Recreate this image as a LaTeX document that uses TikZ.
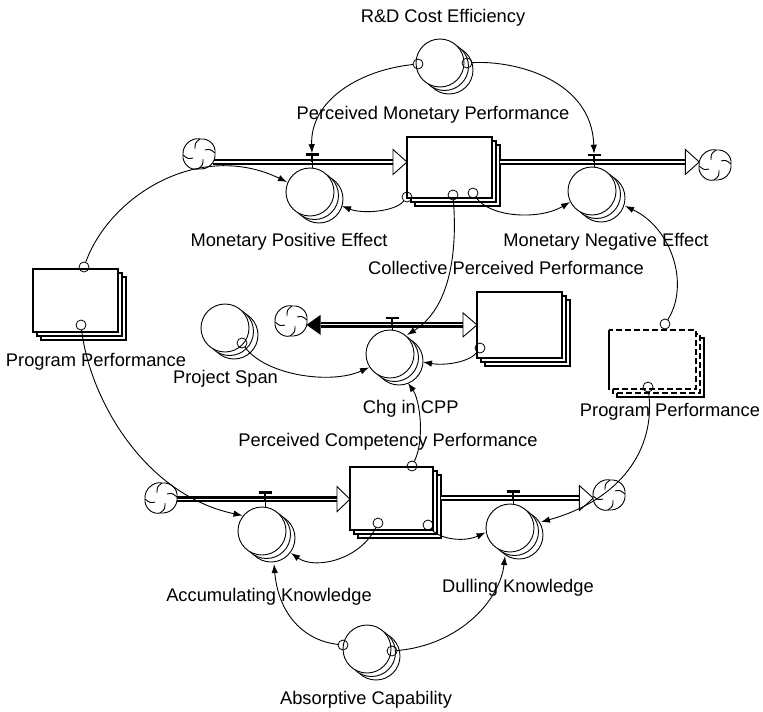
\documentclass[tikz,border=0pt]{standalone}
\usepackage{fontspec}
\setmainfont{Liberation Sans}
\usetikzlibrary{arrows.meta,calc}
\begin{document}
\begin{tikzpicture}[x=1pt,y=-1pt,
  lbl/.style={anchor=base,inner sep=0pt,font=\fontsize{18.3}{22}\selectfont},
  var/.style={circle,draw,fill=white,line width=0.9pt,minimum size=48pt,inner sep=0pt,outer sep=0pt,
    preaction={draw,fill=white,transform canvas={shift={(9pt,-7pt)}}},
    preaction={draw,fill=white,transform canvas={shift={(4.5pt,-3.5pt)}}}},
  level/.style={rectangle,draw,fill=white,line width=2.6pt,inner sep=0pt,outer sep=0pt,
    preaction={draw,fill=white,transform canvas={shift={(8pt,-8pt)}}},
    preaction={draw,fill=white,transform canvas={shift={(4pt,-4pt)}}}},
  tail/.style={circle,draw,line width=0.8pt,minimum size=10pt,inner sep=0pt,outer sep=0pt},
  link/.style={line width=0.9pt,-{Latex[length=9pt,width=6.5pt]}},
  pipe/.style={line width=2.6pt,double=white,double distance=1.2pt},
  pipehead/.style={draw,fill=white,line width=0.9pt,line join=miter},
  sinkpt/.style={circle,minimum size=32pt,inner sep=0pt,outer sep=0pt},
  sinkcloud/.pic={
    \draw[line width=0.9pt,fill=white] (-16,1) .. controls (-17,-9) and (-7,-17) .. (1,-15)
      .. controls (10,-16) and (17,-9) .. (16,-1) .. controls (17,9) and (9,16) .. (-1,15)
      .. controls (-9,17) and (-17,9) .. (-16,1) -- cycle;
    \draw[line width=0.9pt] (1,-15) .. controls (-4,-11) .. (-4,-5)
      (16,-1) .. controls (11,-5) .. (6,-4)
      (-1,15) .. controls (4,11) .. (4,5)
      (-16,1) .. controls (-11,5) .. (-6,4);
  },
  valvebar/.pic={
    \draw[line width=2.6pt] (-6.5,0) -- (6.5,0);
    \draw[line width=1.8pt] (0,0) -- (0,7);
  }
]
\useasboundingbox (0,0) rectangle (763,712);

% sources and sinks
\node[sinkpt] (cl1) at (199,154) {};
\node[sinkpt] (cl2) at (715,165) {};
\node[sinkpt] (cl3) at (291,321) {};
\node[sinkpt] (cl4) at (161,498) {};
\node[sinkpt] (cl5) at (609,495) {};

% stocks
\node[level,minimum width=85pt,minimum height=61pt] (s1) at (449.5,167.5) {};
\node[level,minimum width=85pt,minimum height=66pt] (s2) at (519.5,325) {};
\node[level,minimum width=83pt,minimum height=63pt] (s3) at (391.5,498.5) {};
\node[level,minimum width=85pt,minimum height=63pt] (s4) at (75.5,300.5) {};

% Program Performance (dashed copy)
\node[minimum width=87pt,minimum height=59pt,inner sep=0pt,outer sep=0pt] (s5) at (652.5,359.5) {};
\draw[line width=2.6pt,fill=white] ([xshift=8pt,yshift=-8pt]s5.north west) rectangle ([xshift=8pt,yshift=-8pt]s5.south east);
\draw[line width=2.2pt,fill=white,dash pattern=on 6pt off 3pt] ([xshift=4pt,yshift=-4pt]s5.north west) rectangle ([xshift=4pt,yshift=-4pt]s5.south east);
\draw[line width=2.2pt,fill=white,dash pattern=on 6pt off 3pt] (s5.north west) rectangle (s5.south east);
\draw[line width=2.6pt] (s5.north west) -- (s5.south west);

% pipes
\draw[pipe] (cl1.-30) -- ([xshift=-14pt]cl1.-30 -| s1.west);
\draw[pipe] ([xshift=8pt]s1.east |- cl2.169) -- ([xshift=-14pt]cl2.169);
\draw[pipe] ([xshift=14pt]cl3.-14) -- ([xshift=-14pt]cl3.-14 -| s2.west);
\draw[pipe] (cl4.-4) -- ([xshift=-13pt]cl4.-4 -| s3.west);
\draw[pipe] ([xshift=8pt]s3.east |- cl5.191) -- ([xshift=-14pt]cl5.191);

% pipe heads
\draw[pipehead] (cl1.-30 -| s1.west) -- ++(-14,-12.5) -- ++(0,25) -- cycle;
\draw[pipehead] (cl2.169) -- ++(-14,-12.5) -- ++(0,25) -- cycle;
\fill (cl3.-14) -- ++(14,-10) -- ++(0,20) -- cycle;
\draw[pipehead] (cl3.-14 -| s2.west) -- ++(-14,-12) -- ++(0,24) -- cycle;
\draw[pipehead] (cl4.-4 -| s3.west) -- ++(-13,-12.5) -- ++(0,25) -- cycle;
\draw[pipehead] (cl5.191) -- ++(-14,-12.5) -- ++(0,25) -- cycle;

% clouds
\foreach \c in {cl1,cl2,cl3,cl4,cl5} \pic at (\c) {sinkcloud};

% valves
\coordinate (v1) at (312,154.5);
\coordinate (v2) at (594,155);
\coordinate (v3) at (392,318);
\coordinate (v4) at (265,492.5);
\coordinate (v5) at (513,491.5);
\foreach \v in {v1,v2,v3,v4,v5} \pic at (\v) {valvebar};

% rates and auxiliaries
\node[var] (rdc) at (440,63) {};
\node[var] (mpe) at (310,192) {};
\node[var] (mne) at (592,191) {};
\node[var] (psp) at (225,328) {};
\node[var] (chg) at (390,354) {};
\node[var] (acc) at (262,531) {};
\node[var] (dul) at (510,528) {};
\node[var] (abs) at (367,649) {};

\draw[line width=0.9pt] (v1) -- (v1 |- mpe.north);
\draw[line width=0.9pt] (v2) -- (v2 |- mne.north);
\draw[line width=0.9pt] (v3) -- (v3 |- chg.north);
\draw[line width=0.9pt] (v4) -- ($(acc.north)+(3,0.3)$);
\draw[line width=0.9pt] (v5) -- ($(dul.north)+(3,0.3)$);

% connector tails
\node[tail] (t1) at (418,64) {};
\node[tail] (t2) at (467,63) {};
\node[tail] (t3) at (407,197) {};
\node[tail] (t4) at (453,195) {};
\node[tail] (t5) at (473,193) {};
\node[tail] (t6) at (84,267) {};
\node[tail] (t7) at (81,325) {};
\node[tail] (t8) at (242,343) {};
\node[tail] (t9) at (480,348) {};
\node[tail] (t10) at (412,466) {};
\node[tail] (t11) at (378,523) {};
\node[tail] (t12) at (428,525) {};
\node[tail] (t13) at (665,324) {};
\node[tail] (t14) at (648,387) {};
\node[tail] (t15) at (343,645) {};
\node[tail] (t16) at (392,651) {};

% connectors
\draw[link] (t1) .. controls (360,70) and (310,100) .. ([yshift=1.3pt]v1);
\draw[link] (t2) .. controls (515,60) and (592,80) .. ([yshift=1.3pt]v2);
\draw[link] (t3) .. controls (395,212) and (362,214) .. ($(mpe)+(32,14)$);
\draw[link] (t4) .. controls (458,260) and (447,310) .. ($(chg)+(17,-19)$);
\draw[link] (t5) .. controls (490,218) and (540,220) .. ($(mne)+(-22,11)$);
\draw[link] (t13) .. controls (690,285) and (672,228) .. ($(mne)+(33,15)$);
\draw[link] (t6) .. controls (110,195) and (200,140) .. ($(mpe)+(-23,-10)$);
\draw[link] (t7) .. controls (90,400) and (145,495) .. ($(acc)+(-19.5,-15.5)$);
\draw[link] (t8) .. controls (265,375) and (330,385) .. ($(chg)+(-21,13.5)$);
\draw[link] (t9) .. controls (470,362) and (445,366) .. ($(chg)+(33,8)$);
\draw[link] (t11) .. controls (360,560) and (315,570) .. ($(acc)+(29,22)$);
\draw[link] (t12) .. controls (440,540) and (465,542) .. ($(dul)+(-24.5,4.5)$);
\draw[link] (t10) .. controls (425,440) and (420,400) .. ($(chg)+(18,29)$);
\draw[link] (t14) .. controls (656,450) and (620,500) .. ($(dul)+(31,-6)$);
\draw[link] (t15) .. controls (300,640) and (278,610) .. ($(acc)+(12,33)$);
\draw[link] (t16) .. controls (460,645) and (500,600) .. ($(dul)+(-5,28)$);

% labels
\node[lbl] (lrdc) at (443,22.5) {R\&D Cost Efficiency};
\node[lbl] (ls1) at (433,119.5) {Perceived Monetary Performance};
\node[lbl] (lmpe) at (289,246.5) {Monetary Positive Effect};
\node[lbl] (lmne) at (606,246.5) {Monetary Negative Effect};
\node[lbl] (ls2) at (506,274.5) {Collective Perceived Performance};
\node[lbl] (ls4) at (96,366) {Program Performance};
\node[lbl] (lpsp) at (225.5,383) {Project Span};
\node[lbl] (lchg) at (410.8,413) {Chg in CPP};
\node[lbl] (ls5) at (670,416.5) {Program Performance};
\node[lbl] (ls3) at (388,446.5) {Perceived Competency Performance};
\node[lbl] (lacc) at (269,601) {Accumulating Knowledge};
\node[lbl] (ldul) at (518,592) {Dulling Knowledge};
\node[lbl] (labs) at (366,704.5) {Absorptive Capability};
\end{tikzpicture}
\end{document}
